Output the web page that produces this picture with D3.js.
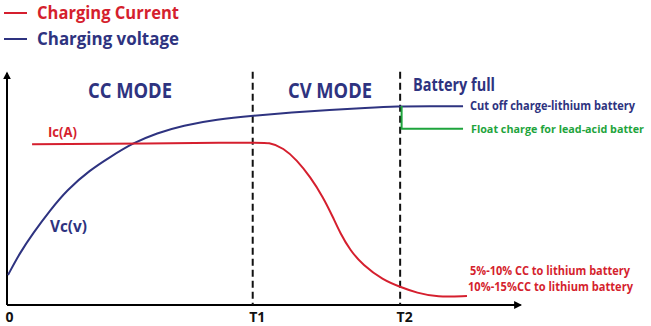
<!DOCTYPE html>
<html>
<head>
<meta charset="utf-8">
<script src="https://cdn.jsdelivr.net/npm/d3@7"></script>
<style>
  body { margin: 0; background: #fff; }
  svg { display: block; font-family: "Open Sans", "Noto Sans", sans-serif; font-weight: 700; }
</style>
</head>
<body>
<script>
var w = 651, h = 326;
var red = '#d51f2e', navy = '#2e3380', green = '#1ea43c';

// time marks on the x axis
var tickValues = [0, 5, 8];
var tickLabels = ['0', 'T1', 'T2'];

// charging current Ic (time, relative value)
var currentT = [0.51, 5.0, 5.35, 5.62, 5.9, 6.17, 6.43, 6.63, 6.78, 6.98, 7.24, 7.65, 8.0, 8.34, 8.75, 9.36];
var currentV = [69.3, 70.0, 70.1, 67.7, 62.5, 55.2, 46.6, 38.0, 31.0, 23.7, 17.2, 10.8, 7.8, 5.2, 3.4, 3.9];

// charging voltage Vc
var voltT = [0.02, 0.26, 0.53, 0.88, 1.22, 1.69, 2.1, 2.56, 3.05, 3.58, 4.27, 5.01, 5.8, 6.57, 7.3, 7.94, 8.6, 9.28];
var voltV = [12.9, 22.4, 31.0, 40.9, 49.6, 58.2, 63.8, 69.8, 74.1, 77.4, 80.0, 81.6, 83.0, 84.1, 85.0, 85.7, 85.7, 85.7];

// float charge step (lead-acid)
var floatT = [8.03, 8.03, 9.28];
var floatV = [85.8, 76, 76];

var xScale = d3.scaleLinear().domain([0, 10.5]).range([7, 523]);
var yScale = d3.scaleLinear().domain([0, 100]).range([305, 73]);

var svg = d3.select('body').append('svg')
    .attr('width', w)
    .attr('height', h);

var defs = svg.append('defs');
defs.append('marker')
    .attr('id', 'arrow')
    .attr('viewBox', '0 0 10 10')
    .attr('refX', 8).attr('refY', 5)
    .attr('markerWidth', 4).attr('markerHeight', 4)
    .attr('orient', 'auto')
    .append('path')
    .attr('d', 'M0,0 L10,5 L0,10 z')
    .attr('fill', '#000');

// axes
svg.append('line')
    .attr('x1', xScale(0)).attr('y1', yScale(0))
    .attr('x2', xScale(10.45)).attr('y2', yScale(0))
    .attr('stroke', '#000').attr('stroke-width', 2)
    .attr('marker-end', 'url(#arrow)');
svg.append('line')
    .attr('x1', xScale(0)).attr('y1', yScale(0))
    .attr('x2', xScale(0)).attr('y2', yScale(100))
    .attr('stroke', '#000').attr('stroke-width', 2)
    .attr('marker-end', 'url(#arrow)');

var xAxis = d3.axisBottom(xScale)
    .tickValues(tickValues)
    .tickSize(0)
    .tickFormat(function (d, i) { return tickLabels[i]; });

var gx = svg.append('g')
    .attr('transform', 'translate(0,' + yScale(0) + ')')
    .call(xAxis);
gx.select('.domain').remove();
gx.selectAll('text')
    .attr('y', 17)
    .attr('dy', 0)
    .attr('x', function (d) { return d == 0 ? 2 : 4; })
    .style('font-family', '"Open Sans", sans-serif')
    .style('font-weight', 700)
    .style('font-size', '14px')
    .attr('fill', '#111');

// dashed phase lines
svg.selectAll('.phase')
    .data([5, 8])
    .enter()
    .append('line')
    .attr('class', 'phase')
    .attr('x1', function (d) { return xScale(d); })
    .attr('x2', function (d) { return xScale(d); })
    .attr('y1', yScale(100.5))
    .attr('y2', yScale(0))
    .attr('stroke', '#111')
    .attr('stroke-width', 2)
    .attr('stroke-dasharray', '7,4');

var line = d3.line()
    .x(function (d) { return xScale(d[0]); })
    .y(function (d) { return yScale(d[1]); });

svg.append('path')
    .datum(d3.zip(voltT, voltV))
    .attr('d', line.curve(d3.curveBasis))
    .attr('fill', 'none')
    .attr('stroke', navy)
    .attr('stroke-width', 2);

svg.append('path')
    .datum(d3.zip(currentT, currentV))
    .attr('d', line.curve(d3.curveBasis))
    .attr('fill', 'none')
    .attr('stroke', red)
    .attr('stroke-width', 2);

svg.append('path')
    .datum(d3.zip(floatT, floatV))
    .attr('d', line.curve(d3.curveLinear))
    .attr('fill', 'none')
    .attr('stroke', green)
    .attr('stroke-width', 2);

// legend
var legend = [
    { name: 'Charging Current', color: red, y: 13 },
    { name: 'Charging voltage', color: navy, y: 39 }
];
legend.forEach(function (l) {
    svg.append('line')
        .attr('x1', 4).attr('x2', 27)
        .attr('y1', l.y).attr('y2', l.y)
        .attr('stroke', l.color).attr('stroke-width', 2);
    svg.append('text')
        .attr('x', 37).attr('y', l.y + 6)
        .attr('fill', l.color)
        .style('font-size', '17px')
        .attr('textLength', 142)
        .attr('lengthAdjust', 'spacingAndGlyphs')
        .text(l.name);
});

// annotations
function label(txt, x, y, size, color, width, anchor) {
    var t = svg.append('text')
        .attr('x', x).attr('y', y)
        .attr('fill', color)
        .style('font-size', size + 'px')
        .attr('text-anchor', anchor || 'start')
        .text(txt);
    if (width) t.attr('textLength', width).attr('lengthAdjust', 'spacingAndGlyphs');
    return t;
}

label('CC MODE', 130, 98, 21, navy, 84, 'middle');
label('CV MODE', 330, 98, 21, navy, 84, 'middle');
label('Battery full', 413, 91, 17, navy, 82);
label('Ic(A)', 48, 137, 14, red, 29);
label('Vc(v)', 50, 232, 16, navy, 37);
label('Cut off charge-lithium battery', 470, 110, 12, navy, 165);
label('Float charge for lead-acid batter', 471, 133, 11, green, 173);
label('5%-10% CC to lithium battery', 470, 275, 12, red, 160);
label('10%-15%CC to lithium battery', 468, 291, 12, red, 165);
</script>
</body>
</html>
